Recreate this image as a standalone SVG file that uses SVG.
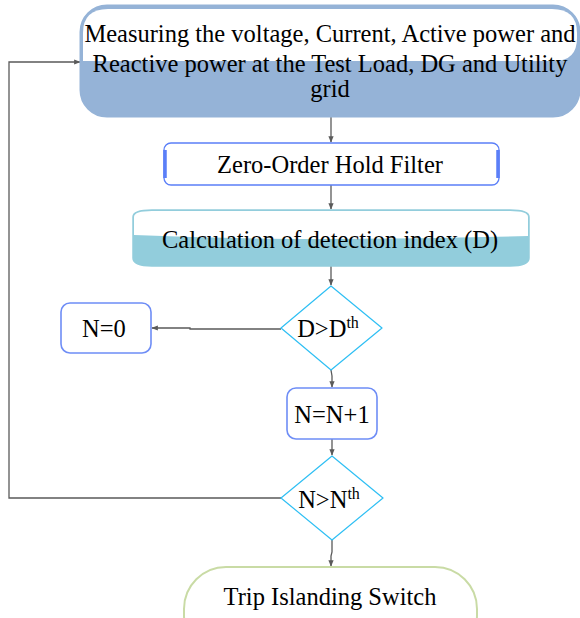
<svg xmlns="http://www.w3.org/2000/svg" width="580" height="618" viewBox="0 0 580 618">
<defs>
<style>
.t{font-family:"Liberation Serif","Times New Roman",serif;font-size:24.5px;fill:#000;text-anchor:middle}
.sup{font-size:16px}
.c{fill:none;stroke:#5a5a5a;stroke-width:1.3}
.nb{fill:#fff;stroke:#6E8DF6;stroke-width:1.6}
.dm{fill:#fff;stroke:#2EBFF4;stroke-width:1.2;stroke-linejoin:round}
</style>
<marker id="ah" viewBox="0 0 10 10" refX="9" refY="5" markerWidth="5" markerHeight="5" orient="auto">
<path d="M0,1 L10,5 L0,9 Z" fill="#5a5a5a"/>
</marker>
</defs>
<rect width="580" height="618" fill="#fff"/>

<g id="connectors">
<line class="c" x1="331" y1="116" x2="331" y2="142" marker-end="url(#ah)"/>
<line class="c" x1="331" y1="185" x2="331" y2="209" marker-end="url(#ah)"/>
<line class="c" x1="331" y1="266" x2="331" y2="285" marker-end="url(#ah)"/>
<polyline class="c" points="281,329 190,329 190,328 152,328" marker-end="url(#ah)"/>
<polyline class="c" points="331,370 332,376 332,387" marker-end="url(#ah)"/>
<line class="c" x1="332" y1="439" x2="332" y2="455" marker-end="url(#ah)"/>
<polyline class="c" points="281,498 9,498 9,62 80,62" marker-end="url(#ah)"/>
<polyline class="c" points="332,540 332,552 331,556 331,566" marker-end="url(#ah)"/>
</g>

<g id="measure">
<rect x="81" y="6" width="498" height="110" rx="26" fill="#95B3D7" stroke="#95B3D7" stroke-width="3"/>
<path d="M83,61 L83,33 Q83,9 108,9 L552,9 Q577,9 577,33 L577,38 Q577,61 554,61 Z" fill="#fff"/>
<text class="t" x="330" y="42">Measuring the voltage, Current, Active power and</text>
<text class="t" x="330" y="72">Reactive power at the Test Load, DG and Utility</text>
<text class="t" x="330" y="97">grid</text>
</g>

<g id="zoh">
<rect x="164" y="143" width="335" height="42" rx="7" fill="#fff" stroke="#5B7FF8" stroke-width="1.3"/>
<path d="M165,150 L165,178 M498,150 L498,178" stroke="#5B7FF8" stroke-width="3.5" fill="none"/>
<text class="t" x="330" y="173">Zero-Order Hold Filter</text>
</g>

<g id="calc">
<path d="M133,217 Q133,210 152,210 L510,210 Q529,210 529,217 L529,258 Q529,266 510,266 L152,266 Q133,266 133,258 Z" fill="#92CDDC" stroke="#92CDDC" stroke-width="1.5"/>
<path d="M134,217 Q134,211 152,211 L510,211 Q528,211 528,217 L528,236 Q430,239 330,239 Q230,239 134,235 Z" fill="#fff"/>
<text class="t" x="330" y="248">Calculation of detection index (D)</text>
</g>

<g id="d1">
<path class="dm" d="M331,286 L382,328 L331,370 L281,328 Z"/>
<text class="t" x="328" y="337">D&gt;D<tspan class="sup" dy="-9">th</tspan></text>
</g>

<g id="n0">
<rect class="nb" x="61" y="303" width="90" height="50" rx="9"/>
<text class="t" x="104" y="337">N=0</text>
</g>

<g id="ninc">
<rect class="nb" x="287" y="388" width="90" height="51" rx="9"/>
<text class="t" x="332" y="423">N=N+1</text>
</g>

<g id="d2">
<path class="dm" d="M332,456 L383,498 L332,540 L281,498 Z"/>
<text class="t" x="329" y="508">N&gt;N<tspan class="sup" dy="-9">th</tspan></text>
</g>

<g id="trip">
<rect x="184" y="567" width="293" height="90" rx="42" fill="#fff" stroke="#C9DBA5" stroke-width="2"/>
<text class="t" x="330" y="605">Trip Islanding Switch</text>
</g>
</svg>
